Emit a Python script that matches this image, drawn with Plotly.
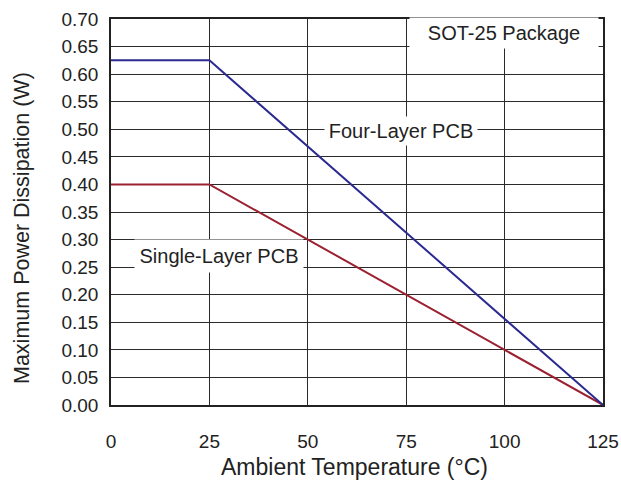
import plotly.graph_objects as go

temps = [0, 25, 125]
four_layer = [0.625, 0.625, 0.0]
single_layer = [0.40, 0.40, 0.0]
x_ticks = [0, 25, 50, 75, 100, 125]
y_ticks = [round(i * 0.05, 2) for i in range(15)]
y_tick_labels = [f"{v:.2f}" for v in y_ticks]

FONT = "Liberation Sans, Arial, sans-serif"
TXT = "#222222"

fig = go.Figure()
fig.add_trace(go.Scatter(x=temps, y=single_layer, mode="lines",
                         line=dict(color="#9b2030", width=2), showlegend=False))
fig.add_trace(go.Scatter(x=temps, y=four_layer, mode="lines",
                         line=dict(color="#2a2a90", width=2), showlegend=False))

fig.update_layout(
    width=621, height=481,
    margin=dict(l=111, r=18, t=19, b=76),
    paper_bgcolor="white", plot_bgcolor="white",
    font=dict(family=FONT, color=TXT),
    xaxis=dict(range=[0, 125], tickvals=x_ticks, ticktext=[str(v) for v in x_ticks],
               showgrid=True, gridcolor="#2a2a2a", gridwidth=1.4,
               showline=True, linecolor="#222222", linewidth=1.6, mirror=True,
               zeroline=False, ticks="", ticklen=0, automargin=False,
               ticklabelstandoff=18, ticklabeloverflow="allow",
               tickfont=dict(size=19, family=FONT, color=TXT)),
    yaxis=dict(range=[0, 0.70], tickvals=y_ticks, ticktext=y_tick_labels,
               showgrid=True, gridcolor="#2a2a2a", gridwidth=1.4,
               showline=True, linecolor="#222222", linewidth=1.6, mirror=True,
               zeroline=False, ticks="", ticklen=0, automargin=False,
               ticklabelstandoff=7,
               tickfont=dict(size=19, family=FONT, color=TXT)),
)

# axis titles
fig.add_annotation(x=(354 - 111) / 492, y=-(467 - 405) / 386, xref="paper", yref="paper",
                   text="Ambient Temperature (°C)", showarrow=False,
                   xanchor="center", yanchor="middle",
                   font=dict(size=23, family=FONT, color=TXT))
fig.add_annotation(x=-(111 - 22) / 492, y=(405 - 228) / 386, xref="paper", yref="paper",
                   text="Maximum Power Dissipation (W)", showarrow=False, textangle=-90,
                   xanchor="center", yanchor="middle",
                   font=dict(size=21.5, family=FONT, color=TXT))

# in-plot labels with white boxes
fig.add_annotation(x=99.8, y=0.674, xref="x", yref="y", text="SOT-25 Package",
                   showarrow=False, bgcolor="white", width=186, height=28,
                   font=dict(size=20, family=FONT, color=TXT))
fig.add_annotation(x=73.7, y=0.497, xref="x", yref="y", text="Four-Layer PCB",
                   showarrow=False, bgcolor="white", width=150, height=26,
                   font=dict(size=20, family=FONT, color=TXT))
fig.add_annotation(x=27.4, y=0.27, xref="x", yref="y", text="Single-Layer PCB",
                   showarrow=False, bgcolor="white", width=166, height=30,
                   font=dict(size=20, family=FONT, color=TXT))

fig.write_html("out.html", config={"displayModeBar": False},
               post_script="document.body.style.margin='0';document.body.style.overflow='hidden';")
